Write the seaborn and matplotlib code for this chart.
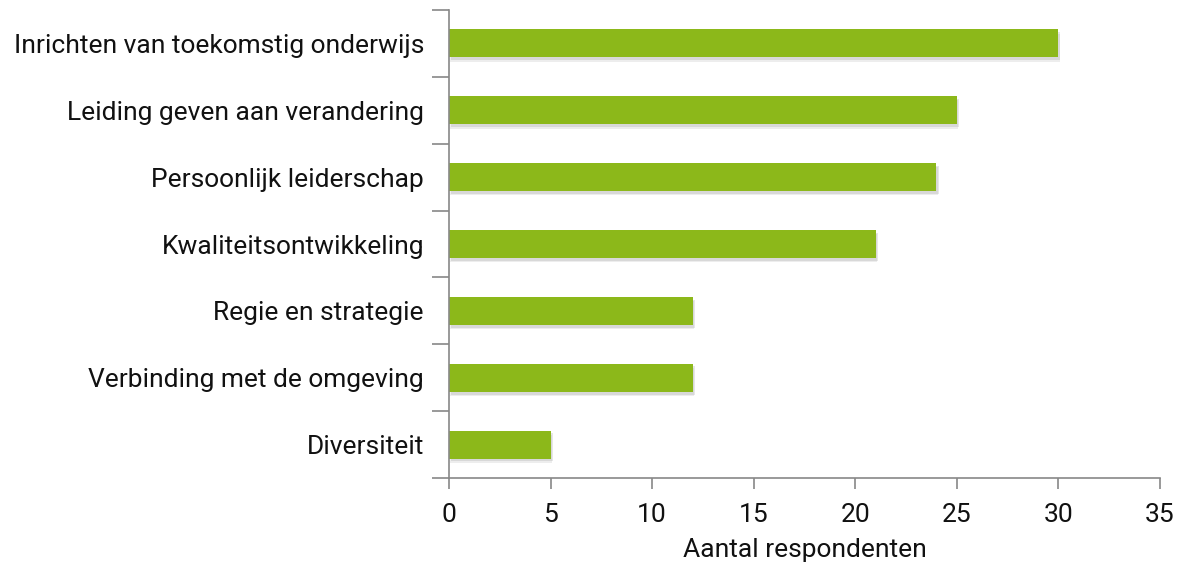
import matplotlib
matplotlib.use("Agg")
import matplotlib.pyplot as plt
import matplotlib.patheffects as pe
import seaborn as sns
import pandas as pd

# Data
categories = [
    "Inrichten van toekomstig onderwijs",
    "Leiding geven aan verandering",
    "Persoonlijk leiderschap",
    "Kwaliteitsontwikkeling",
    "Regie en strategie",
    "Verbinding met de omgeving",
    "Diversiteit",
]
counts = [30, 25, 24, 21, 12, 12, 5]
x_ticks = [0, 5, 10, 15, 20, 25, 30, 35]

df = pd.DataFrame({"Categorie": categories, "Aantal": counts})

sns.set_style("white")
plt.rcParams["font.family"] = ["Roboto", "DejaVu Sans"]

fig = plt.figure(figsize=(11.8, 5.66), dpi=100)
ax = fig.add_axes([0.3805, 0.1555, 0.6025, 0.8268])

sns.barplot(data=df, x="Aantal", y="Categorie", color="#8CB81A",
            saturation=1, width=0.42, ax=ax, edgecolor="none")

# soft drop shadow under the bars
for bar in ax.patches:
    bar.set_path_effects([
        pe.SimplePatchShadow(offset=(1, -3), shadow_rgbFace="#888888", alpha=0.15),
        pe.SimplePatchShadow(offset=(1.5, -2), shadow_rgbFace="#888888", alpha=0.2),
        pe.Normal(),
    ])

ax.set_xlim(0, 35)
ax.set_ylim(6.5, -0.5)
ax.set_xticks(x_ticks)
ax.set_xlabel("Aantal respondenten", fontsize=19, color="#111111", labelpad=8)
ax.set_ylabel("")

# tick marks at category boundaries on the y axis
ax.set_yticks([i - 0.5 for i in range(len(categories) + 1)], minor=True)
ax.tick_params(axis="y", which="major", length=0, pad=18, labelsize=19, labelcolor="#111111")
ax.tick_params(axis="y", which="minor", length=12, width=1.2, color="#888888", left=True)
ax.tick_params(axis="x", which="major", length=8, width=1.2, color="#888888",
               bottom=True, labelsize=19, labelcolor="#111111", pad=10)

for side in ["top", "right"]:
    ax.spines[side].set_visible(False)
for side in ["left", "bottom"]:
    ax.spines[side].set_color("#888888")
    ax.spines[side].set_linewidth(1.2)

plt.savefig("out.png", dpi=100)
